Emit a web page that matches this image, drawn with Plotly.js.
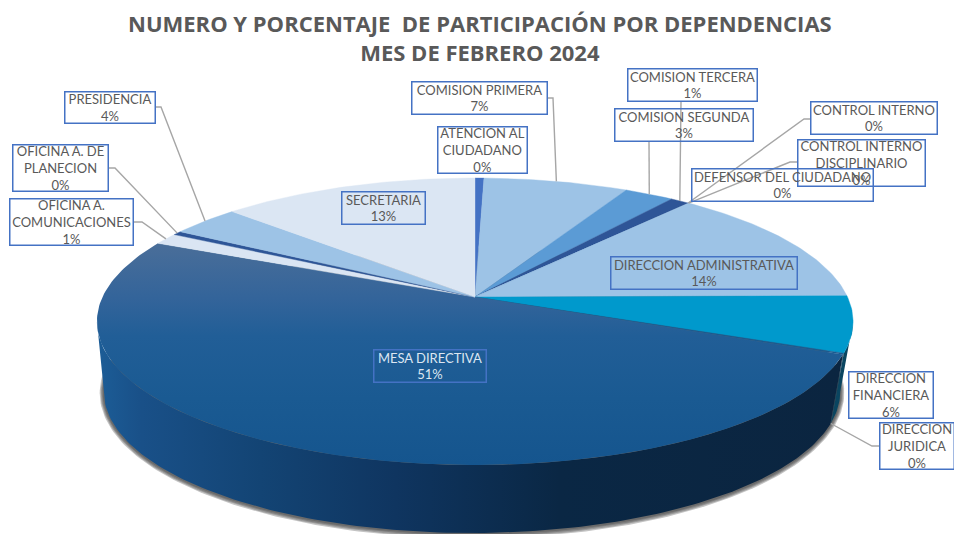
<!DOCTYPE html>
<html>
<head>
<meta charset="utf-8">
<script src="https://cdn.plot.ly/plotly-3.0.1.min.js"></script>
<style>html,body{margin:0;padding:0;background:#fff}#chart{width:954px;height:534px}</style>
</head>
<body>
<div id="chart"></div>
<script>
// ---------- data ----------
var categories = ["ATENCION AL<br>CIUDADANO","COMISION PRIMERA","COMISION SEGUNDA","COMISION TERCERA","CONTROL INTERNO","CONTROL INTERNO<br>DISCIPLINARIO","DEFENSOR DEL CIUDADANO","DIRECCION ADMINISTRATIVA","DIRECCION<br>FINANCIERA","DIRECCION<br>JURIDICA","MESA DIRECTIVA","OFICINA A.<br>COMUNICACIONES","OFICINA A. DE<br>PLANECION","PRESIDENCIA","SECRETARIA"];
var shares = [0.45,7.3,2.5,0.94,0.03,0.03,0.03,13.6,6.3,0.15,50.5,1.3,0.45,3.5,13.0];
var percentLabels = ["0%","7%","3%","1%","0%","0%","0%","14%","6%","0%","51%","1%","0%","4%","13%"];
var titleLines = ["NUMERO Y PORCENTAJE  DE PARTICIPACIÓN POR DEPENDENCIAS","MES DE FEBRERO 2024"];

// ---------- styling ----------
var topColors = ["#4472c4","#9dc3e6","#5b9bd5","#2e5597","#2e5597","#9dc3e6","#9dc3e6","#9dc3e6","#0099cc","#1b5a90",null,"#dae5f3","#2e5597","#9dc3e6","#dbe6f3"];
var labelBoxes = [ // left, right, top, bottom
 [437,527,126,173],[411,547,81,114],[614,753,108,141],[627,757,68,101],[810,937,101,134],[797,925,139,186],[691,873,168,201],
 [610,797,256,289],[848,933,371,418],[879,954,422,469],[373,486,349,382],[9,133,198,245],[12,108,144,191],[64,155,91,123],[341,425,191,224]];
var leaderElbows = { // start on the box, elbow; the end is on the slice rim
 1:[[547,98],[553,98]],2:[[649,141],[649,142]],3:[[681,101],[681,102]],4:[[810,119],[804,119]],5:[[797,162],[790,162]],
 9:[[879,446],[872,446]],11:[[133,222],[142,222]],12:[[108,168],[115,168]],13:[[155,107],[161,107]]};
var labelFont = "Lato, 'Open Sans', sans-serif";

// ---------- projection of the tilted disc ----------
var apexX=475, apexY=297, A=372.5, B=139.3, k=0.171;
function rim(theta, scale, xOff, yOff, bRatio, grow){
  var u=Math.sin(theta), v=Math.cos(theta), w=1+k*v;
  return [apexX + xOff + (A*scale+grow)*u/w, apexY + yOff - (B*bRatio+grow)*v/w];
}
var total=shares.reduce(function(a,b){return a+b},0);
var angles=[0]; shares.forEach(function(s,i){angles.push(angles[i]+s/total*2*Math.PI)});
function arc(t1,t2,fn){
  var n=Math.max(2,Math.ceil(Math.abs(t2-t1)/(Math.PI/180))), xs=[], ys=[];
  for(var j=0;j<=n;j++){var p=fn(t1+(t2-t1)*j/n); xs.push(p[0]); ys.push(p[1]);}
  return [xs,ys];
}
var topRim=function(t){return rim(t,1,0,0,1,0)};
var lowRim=function(t){return rim(t,0.974,-3,70.5,0.985,0)};
// the wall is only visible between the two silhouette points of the disc
var wallFrom=Math.PI-Math.acos(k), wallTo=Math.PI+Math.acos(k);

var traces=[];
// soft shadow under the disc
[4,3,2,1].forEach(function(g){
  var a=arc(0,2*Math.PI,function(t){return rim(t,0.974,-3,71,0.985,g)});
  traces.push({type:'scatter',mode:'lines',x:a[0],y:a[1],fill:'toself',fillcolor:'rgba(60,60,60,0.3)',line:{width:0},hoverinfo:'skip',showlegend:false});
});
// side walls of the visible slices
[[8,'#0a4560',null],[9,'#0a3a55',null],[10,null,[[0,'#1c5d97'],[0.06,'#195088'],[0.22,'#134474'],[0.4,'#0f3560'],[0.62,'#0a2744'],[1,'#0b2540']]]].forEach(function(d){
  var i=d[0], t1=Math.max(angles[i],wallFrom), t2=Math.min(angles[i+1],wallTo);
  var a=arc(t1,t2,topRim), b=arc(t2,t1,lowRim);
  var t={type:'scatter',mode:'lines',x:a[0].concat(b[0]),y:a[1].concat(b[1]),fill:'toself',line:{width:0},hoverinfo:'skip',showlegend:false};
  if(d[2]){t.fillgradient={type:'horizontal',colorscale:d[2]};} else {t.fillcolor=d[1];}
  traces.push(t);
});
// top face
shares.forEach(function(s,i){
  var a=arc(angles[i],angles[i+1],topRim);
  var t={type:'scatter',mode:'lines',x:[apexX].concat(a[0],[apexX]),y:[apexY].concat(a[1],[apexY]),fill:'toself',hoverinfo:'skip',showlegend:false,name:categories[i].replace('<br>',' ')};
  if(topColors[i]){t.fillcolor=topColors[i];t.line={width:0.4,color:topColors[i]};}
  else{t.line={width:0};t.fillgradient={type:'vertical',colorscale:[[0,'#15558e'],[0.3,'#1a5a92'],[0.58,'#215e97'],[0.75,'#33649a'],[1,'#4a6e99']]};}
  traces.push(t);
});
// leader lines
Object.keys(leaderElbows).forEach(function(key){
  var i=+key, mid=(angles[i]+angles[i+1])/2, e=leaderElbows[key], r=topRim(mid);
  if(i===9){r=lowRim(mid);}
  traces.push({type:'scatter',mode:'lines',x:[e[0][0],e[1][0],r[0]],y:[e[0][1],e[1][1],r[1]],line:{color:'#a6a6a6',width:1.4},hoverinfo:'skip',showlegend:false});
});

var annotations=categories.map(function(c,i){
  var b=labelBoxes[i];
  return {xref:'x',yref:'y',x:(b[0]+b[1])/2,y:(b[2]+b[3])/2,xanchor:'center',yanchor:'middle',showarrow:false,
    text:c+'<br>'+percentLabels[i],align:'center',valign:'middle',width:b[1]-b[0]-2,height:b[3]-b[2]-2,
    bordercolor:'#4472c4',borderwidth:1.5,borderpad:0,bgcolor:'rgba(0,0,0,0)',
    font:{family:labelFont,size:13,color:i===10?'#dce6f2':'#595959'}};
});

var layout={
  width:954,height:534,margin:{l:0,r:0,t:0,b:0},paper_bgcolor:'#fff',plot_bgcolor:'#fff',showlegend:false,
  title:{text:'<b>'+titleLines.join('<br>')+'</b>',x:0.503,xanchor:'center',xref:'paper',y:0.94,yanchor:'top',yref:'paper',
    font:{family:"'Open Sans', sans-serif",size:22,color:'#595959'}},
  xaxis:{range:[0,954],visible:false,fixedrange:true},
  yaxis:{range:[534,0],visible:false,fixedrange:true},
  annotations:annotations
};
Plotly.newPlot('chart',traces,layout,{displayModeBar:false,staticPlot:true});
</script>
</body>
</html>
